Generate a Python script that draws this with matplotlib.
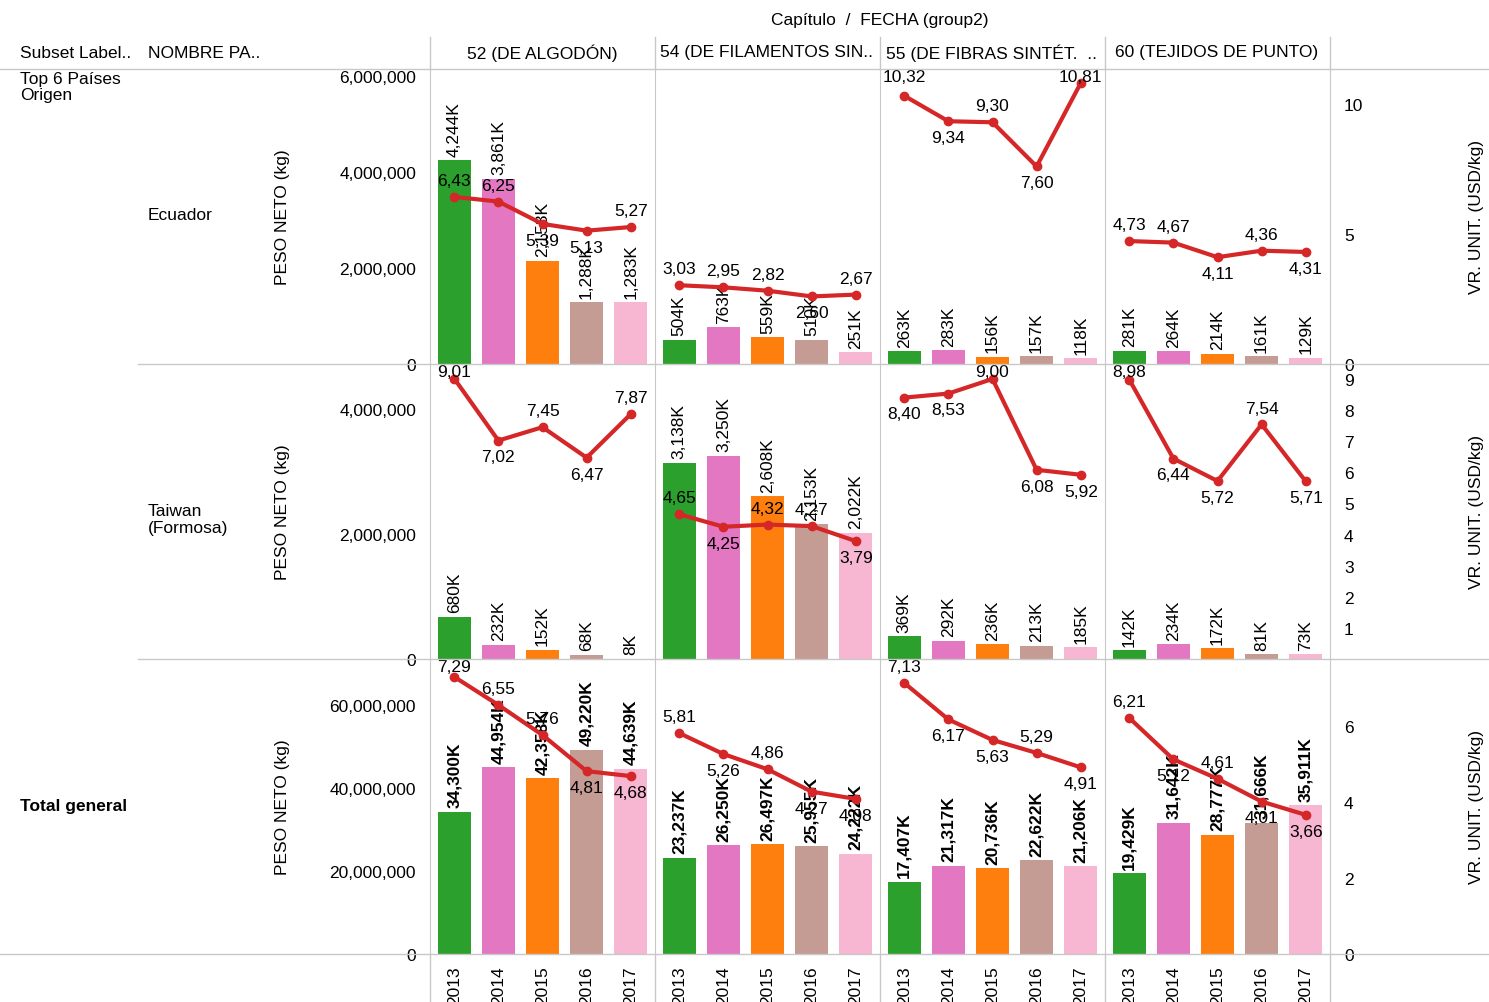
import numpy as np
from matplotlib import pyplot as plt

plt.rcParams['font.family'] = ['Liberation Sans', 'DejaVu Sans']

years = ['2013', '2014', '2015', '2016', '2017']
chapters = ['52 (DE ALGODÓN)', '54 (DE FILAMENTOS SIN..', '55 (DE FIBRAS SINTÉT.  ..', '60 (TEJIDOS DE PUNTO)']
colors = ['#2ca02c', '#e377c2', '#ff7f0e', '#c49c94', '#f7b6d2']
line_color = '#d62728'

# peso neto in thousands of kg, [chapter][year]
ecuador_kg = [[4244, 3861, 2153, 1288, 1283],
              [504, 763, 559, 510, 251],
              [263, 283, 156, 157, 118],
              [281, 264, 214, 161, 129]]
ecuador_vr = [[6.43, 6.25, 5.39, 5.13, 5.27],
              [3.03, 2.95, 2.82, 2.60, 2.67],
              [10.32, 9.34, 9.30, 7.60, 10.81],
              [4.73, 4.67, 4.11, 4.36, 4.31]]
taiwan_kg = [[680, 232, 152, 68, 8],
             [3138, 3250, 2608, 2153, 2022],
             [369, 292, 236, 213, 185],
             [142, 234, 172, 81, 73]]
taiwan_vr = [[9.01, 7.02, 7.45, 6.47, 7.87],
             [4.65, 4.25, 4.32, 4.27, 3.79],
             [8.40, 8.53, 9.00, 6.08, 5.92],
             [8.98, 6.44, 5.72, 7.54, 5.71]]
total_kg = [[34300, 44954, 42358, 49220, 44639],
            [23237, 26250, 26497, 25955, 24222],
            [17407, 21317, 20736, 22622, 21206],
            [19429, 31642, 28777, 31666, 35911]]
total_vr = [[7.29, 6.55, 5.76, 4.81, 4.68],
            [5.81, 5.26, 4.86, 4.27, 4.08],
            [7.13, 6.17, 5.63, 5.29, 4.91],
            [6.21, 5.12, 4.61, 4.01, 3.66]]

rows = [(ecuador_kg, ecuador_vr, 6.15e6, 11.35, [0, 2e6, 4e6, 6e6], [0, 5, 10], False),
        (taiwan_kg, taiwan_vr, 4.72e6, 9.48, [0, 2e6, 4e6], list(range(1, 10)), False),
        (total_kg, total_vr, 71.1e6, 7.76, [0, 20e6, 40e6, 60e6], [0, 2, 4, 6], True)]

W, H = 1489, 1003
fig = plt.figure(figsize=(W / 100, H / 100), dpi=100)
fs = 12.5

def fx(px):
    return px / W

def fy(py):
    return 1 - py / H

x = np.arange(5)
for r, (kg, vr, kmax, vmax, kticks, vticks, bold) in enumerate(rows):
    top = 70 + 295 * r
    for c in range(4):
        left = 430 + 225 * c
        ax = fig.add_axes([fx(left), fy(top + 295), fx(225), 295 / H])
        vals = np.array(kg[c]) * 1000
        ax.bar(x, vals, width=0.75, color=colors)
        ax.set_xlim(-0.55, 4.55)
        ax.set_ylim(0, kmax)
        for xi, v in zip(x, vals):
            ax.text(xi, v + kmax * 0.015, f'{int(v / 1000):,}K', rotation=90, ha='center', va='bottom',
                    fontsize=fs, fontweight='bold' if bold else 'normal')
        ax2 = ax.twinx()
        ax2.plot(x, vr[c], color=line_color, lw=3, marker='o', ms=6)
        ax2.set_ylim(0, vmax)
        v = vr[c]
        for i in range(5):
            nb = [v[j] for j in (i - 1, i + 1) if 0 <= j < 5]
            above = v[i] >= np.mean(nb)
            off = vmax * 0.03
            ty = v[i] + (off if above else -off)
            va = 'bottom' if above else 'top'
            if above and ty > vmax * 0.9:
                ty, va = vmax * 1.0, 'top'
            ax2.text(x[i], ty, f'{v[i]:.2f}'.replace('.', ','),
                     ha='center', va=va, fontsize=fs)
        for a in (ax, ax2):
            for s in a.spines.values():
                s.set_visible(False)
            a.tick_params(length=0, labelsize=fs)
        ax.spines['left'].set_visible(True)
        ax.spines['left'].set_color('#c8c8c8')
        if c == 0:
            ax.set_yticks(kticks)
            ax.set_yticklabels([f'{int(t):,}' for t in kticks])
            ax.tick_params(axis='y', pad=10)
        else:
            ax.set_yticks([])
        if c == 3:
            ax2.set_yticks(vticks)
            ax2.tick_params(axis='y', pad=10)
            ax2.spines['right'].set_visible(True)
            ax2.spines['right'].set_color('#c8c8c8')
        else:
            ax2.set_yticks([])
        if r == 2:
            ax.set_xticks(x)
            ax.set_xticklabels(years, rotation=90, fontsize=fs)
            ax.tick_params(axis='x', pad=8)
        else:
            ax.set_xticks([])
    fig.text(fx(282), fy(top + 147), 'PESO NETO (kg)', rotation=90, ha='center', va='center', fontsize=fs)
    fig.text(fx(1476), fy(top + 147), 'VR. UNIT. (USD/kg)', rotation=90, ha='center', va='center', fontsize=fs)

# frame lines
for py, x0 in [(70, 0), (365, 138), (660, 138), (955, 0)]:
    fig.add_artist(plt.Line2D([fx(x0), 1], [fy(py), fy(py)], color='#c8c8c8', lw=1))
for px in [430, 655, 880, 1105, 1330]:
    fig.add_artist(plt.Line2D([fx(px), fx(px)], [fy(38), fy(70)], color='#c8c8c8', lw=1))
    fig.add_artist(plt.Line2D([fx(px), fx(px)], [fy(955), fy(1003)], color='#c8c8c8', lw=1))

fig.text(fx(880), fy(20), 'Capítulo  /  FECHA (group2)', ha='center', va='center', fontsize=fs)
for c, name in enumerate(chapters):
    fig.text(fx(430 + 225 * c + 112), fy(53), name, ha='center', va='center', fontsize=fs)
fig.text(fx(20), fy(53), 'Subset Label..', ha='left', va='center', fontsize=fs)
fig.text(fx(148), fy(53), 'NOMBRE PA..', ha='left', va='center', fontsize=fs)
fig.text(fx(20), fy(72), 'Top 6 Países\nOrigen', ha='left', va='top', fontsize=fs, linespacing=1.1)
fig.text(fx(148), fy(216), 'Ecuador', ha='left', va='center', fontsize=fs)
fig.text(fx(148), fy(520), 'Taiwan\n(Formosa)', ha='left', va='center', fontsize=fs, linespacing=1.1)
fig.text(fx(20), fy(806), 'Total general', ha='left', va='center', fontsize=fs, fontweight='bold')

fig.savefig('out.png', dpi=100)
